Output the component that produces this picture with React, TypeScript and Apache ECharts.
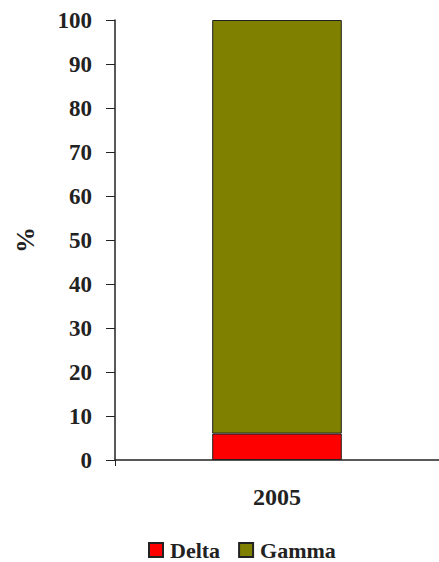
import React, { useEffect, useRef } from "react";
import * as echarts from "echarts";

const categories = ["2005"];
const deltaValues = [6];
const gammaValues = [94];
const yTicks = { min: 0, max: 100, interval: 10 };

const FONT = "'Liberation Serif', 'Times New Roman', serif";

export default function App() {
  const ref = useRef<HTMLDivElement>(null);
  useEffect(() => {
    document.body.style.margin = "0";
    const chart = echarts.init(ref.current!, null, { renderer: "svg" });
    chart.setOption({
      animation: false,
      backgroundColor: "#ffffff",
      textStyle: { fontFamily: FONT },
      grid: { left: 115, right: 0, top: 20, bottom: 102 },
      legend: {
        top: 539,
        left: 148,
        padding: 0,
        itemWidth: 14,
        itemHeight: 14,
        itemGap: 18,
        icon: "rect",
        textStyle: { fontFamily: FONT, fontWeight: "bold", fontSize: 22, lineHeight: 20, color: "#222", padding: [0, 0, 0, 2] },
        data: ["Delta", "Gamma"],
      },
      xAxis: {
        type: "category",
        data: categories,
        axisLine: { lineStyle: { color: "#222", width: 1.5 } },
        axisTick: { show: true, length: 6, inside: false, lineStyle: { color: "#222" } },
        axisLabel: { margin: 25, fontFamily: FONT, fontWeight: "bold", fontSize: 24, color: "#222" },
      },
      yAxis: {
        type: "value",
        min: yTicks.min,
        max: yTicks.max,
        interval: yTicks.interval,
        name: "%",
        nameLocation: "middle",
        nameGap: 77,
        nameRotate: 90,
        nameTextStyle: { fontFamily: FONT, fontWeight: "bold", fontSize: 26, color: "#222" },
        splitLine: { show: false },
        axisLine: { show: true, lineStyle: { color: "#222", width: 1.5 } },
        axisTick: { show: true, length: 9, lineStyle: { color: "#222" } },
        axisLabel: { margin: 23, fontFamily: FONT, fontWeight: "bold", fontSize: 23, color: "#222" },
      },
      series: [
        {
          name: "Delta",
          type: "bar",
          stack: "total",
          data: deltaValues,
          barWidth: "40%",
          itemStyle: { color: "#ff0000", borderColor: "#222", borderWidth: 1 },
        },
        {
          name: "Gamma",
          type: "bar",
          stack: "total",
          data: gammaValues,
          barWidth: "40%",
          itemStyle: { color: "#808000", borderColor: "#222", borderWidth: 1 },
        },
      ],
    });
    return () => chart.dispose();
  }, []);
  return <div ref={ref} style={{ width: 439, height: 562 }} />;
}
